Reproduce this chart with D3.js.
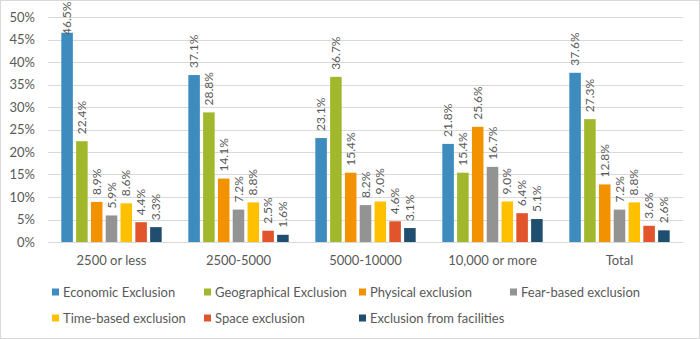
<!DOCTYPE html>
<html>
<head>
<meta charset="utf-8">
<script src="https://cdn.jsdelivr.net/npm/d3@7"></script>
<style>
  body { margin: 0; background: #fff; }
  svg { display: block; font-family: Lato, "Open Sans", sans-serif; }
</style>
</head>
<body>
<svg id="chart" width="700" height="339"></svg>
<script>
const categories = ["2500 or less", "2500-5000", "5000-10000", "10,000 or more", "Total"];
const seriesNames = ["Economic Exclusion", "Geographical Exclusion", "Physical exclusion",
    "Fear-based exclusion", "Time-based exclusion", "Space exclusion", "Exclusion from facilities"];
const seriesColors = ["#3d8cbd", "#a1b82c", "#f39200", "#939393", "#ffc000", "#e2542b", "#1f4e6e"];

// values per category, in series order (%)
const economic     = [46.5, 37.1, 23.1, 21.8, 37.6];
const geographical = [22.4, 28.8, 36.7, 15.4, 27.3];
const physical     = [8.9, 14.1, 15.4, 25.6, 12.8];
const fearBased    = [5.9, 7.2, 8.2, 16.7, 7.2];
const timeBased    = [8.6, 8.8, 9.0, 9.0, 8.8];
const space        = [4.4, 2.5, 4.6, 6.4, 3.6];
const facilities   = [3.3, 1.6, 3.1, 5.1, 2.6];
const series = [economic, geographical, physical, fearBased, timeBased, space, facilities];

const yTicks = [0, 5, 10, 15, 20, 25, 30, 35, 40, 45, 50];

const svg = d3.select("#chart");
const W = 700, H = 339;
const margin = {left: 48, right: 17, top: 17, bottom: 97};

// outer frame
svg.append("rect")
    .attr("x", 0.5).attr("y", 0.5)
    .attr("width", W - 1).attr("height", H - 1)
    .attr("fill", "#fff").attr("stroke", "#d9d9d9");

const x0 = d3.scaleBand()
    .domain(categories)
    .range([margin.left, W - margin.right]);

const x1 = d3.scaleBand()
    .domain(seriesNames)
    .range([0, x0.bandwidth()])
    .paddingInner(0.22)
    .paddingOuter(0.9);

const y = d3.scaleLinear()
    .domain([0, 50])
    .range([H - margin.bottom, margin.top]);

// gridlines
svg.append("g")
    .selectAll("line")
    .data(yTicks)
    .join("line")
    .attr("x1", margin.left).attr("x2", W - margin.right)
    .attr("y1", d => Math.round(y(d)) + 0.5).attr("y2", d => Math.round(y(d)) + 0.5)
    .attr("stroke", "#d9d9d9");

// y axis labels
const yAxis = svg.append("g")
    .attr("transform", `translate(${margin.left - 13},0)`)
    .call(d3.axisLeft(y).tickValues(yTicks).tickFormat(d => d + "%").tickSize(0).tickPadding(0));
yAxis.select(".domain").remove();
yAxis.selectAll("text")
    .attr("fill", "#595959")
    .style("font-size", "13px")
    .style("font-family", "Lato, 'Open Sans', sans-serif");

// x axis labels
const xAxis = svg.append("g")
    .attr("transform", `translate(0,${H - margin.bottom})`)
    .call(d3.axisBottom(x0).tickSize(0).tickPadding(14));
xAxis.select(".domain").remove();
xAxis.selectAll("text")
    .attr("fill", "#595959")
    .style("font-size", "13px")
    .style("font-family", "Lato, 'Open Sans', sans-serif");

// bars
const rows = categories.map((c, ci) => ({
    cat: c,
    values: seriesNames.map((s, si) => ({series: s, idx: si, value: series[si][ci]}))
}));

const groups = svg.append("g")
    .selectAll("g")
    .data(rows)
    .join("g")
    .attr("transform", d => `translate(${x0(d.cat)},0)`);

groups.selectAll("rect")
    .data(d => d.values)
    .join("rect")
    .attr("x", d => x1(d.series))
    .attr("width", x1.bandwidth())
    .attr("y", d => y(d.value))
    .attr("height", d => y(0) - y(d.value))
    .attr("fill", d => seriesColors[d.idx]);

// data labels, rotated; kept inside the frame at the top
groups.selectAll("text")
    .data(d => d.values)
    .join("text")
    .attr("transform", d => {
        const cx = x1(d.series) + x1.bandwidth() / 2 + 4;
        const base = Math.max(y(d.value) - 7, 35);
        return `translate(${cx},${base}) rotate(-90)`;
    })
    .attr("text-anchor", "start")
    .attr("fill", "#595959")
    .style("font-size", "12px")
    .text(d => d.value.toFixed(1) + "%");

// legend
const legendCols = [52, 204, 359, 510];
const legendRows = [292, 318];
const legend = svg.append("g")
    .selectAll("g")
    .data(seriesNames)
    .join("g")
    .attr("transform", (d, i) => `translate(${legendCols[i % 4]},${legendRows[Math.floor(i / 4)]})`);

legend.append("rect")
    .attr("x", 0).attr("y", -3.5)
    .attr("width", 7).attr("height", 7)
    .attr("fill", (d, i) => seriesColors[i]);

legend.append("text")
    .attr("x", 11)
    .attr("dy", "0.35em")
    .attr("fill", "#595959")
    .style("font-size", "13px")
    .text(d => d);
</script>
</body>
</html>
